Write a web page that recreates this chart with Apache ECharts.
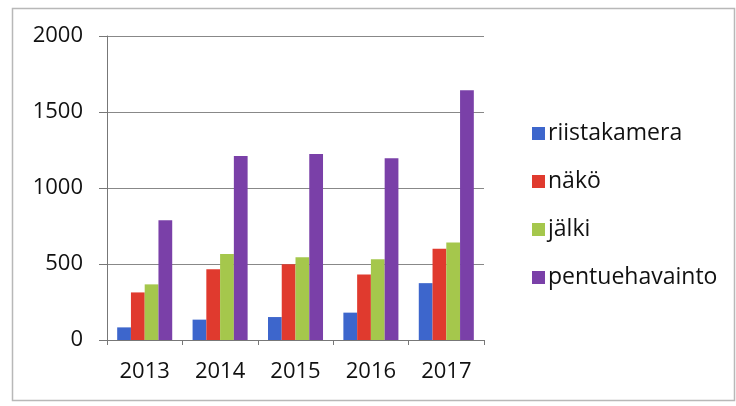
<!DOCTYPE html>
<html><head><meta charset="utf-8">
<script src="https://cdn.jsdelivr.net/npm/echarts@6/dist/echarts.min.js"></script>
<style>html,body{margin:0;padding:0;background:#fff}#c{width:736px;height:406px}</style>
</head><body><div id="c"></div>
<script>
const categories = ['2013','2014','2015','2016','2017'];
const riistakamera = [83, 134, 151, 180, 374];
const nako = [313, 466, 499, 431, 600];
const jalki = [366, 565, 545, 532, 642];
const pentuehavainto = [788, 1211, 1224, 1196, 1643];
const seriesNames = ['riistakamera','näkö','jälki','pentuehavainto'];
const colors = ['#3d66cc','#e03a2e','#a5c74c','#7a40a8'];
const seriesData = [riistakamera, nako, jalki, pentuehavainto];

const chart = echarts.init(document.getElementById('c'), null, {renderer:'canvas'});
const font = '"Open Sans", sans-serif';
chart.setOption({
  animation:false,
  backgroundColor:'#fff',
  color: colors,
  graphic:[{type:'rect', shape:{x:12.5,y:8.5,width:722,height:392}, style:{fill:'none', stroke:'#b8b8b8', lineWidth:1.5}, silent:true, z:-10}],
  grid:{left:107, right:252, top:36, bottom:66, containLabel:false},
  legend:{
    orient:'vertical', left:527, top:117, itemWidth:13, itemHeight:13, itemGap:25,
    icon:'rect',
    textStyle:{fontFamily:font, fontSize:23, color:'#111', padding:[0,0,0,-2]},
    data: seriesNames
  },
  xAxis:{
    type:'category', data:categories,
    axisLine:{lineStyle:{color:'#777', width:1}},
    axisTick:{show:true, length:5, lineStyle:{color:'#777'}},
    axisLabel:{fontFamily:font, fontSize:22, color:'#111', margin:21}
  },
  yAxis:{
    type:'value', min:0, max:2000, interval:500,
    axisLine:{show:true, lineStyle:{color:'#777', width:1}},
    axisTick:{show:true, length:8, lineStyle:{color:'#777'}},
    splitLine:{lineStyle:{color:'#888', width:1}},
    axisLabel:{fontFamily:font, fontSize:22, color:'#111', margin:24, formatter: v => String(v)}
  },
  series: seriesData.map((d,i)=>({
    name: seriesNames[i], type:'bar', data:d, barGap:'0%', barCategoryGap:'27%',
    itemStyle:{color:colors[i]}
  }))
});
</script></body></html>
